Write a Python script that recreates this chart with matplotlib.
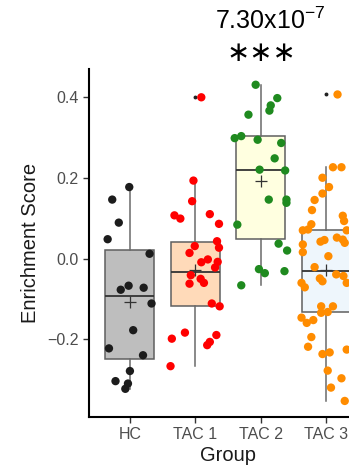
import numpy as np
import matplotlib
matplotlib.use("Agg")
import matplotlib.pyplot as plt

plt.rcParams['font.family'] = ['Liberation Sans', 'DejaVu Sans']
plt.rcParams['mathtext.default'] = 'regular'

groups = ["HC", "TAC 1", "TAC 2", "TAC 3"]
point_colors = ["#1c1c1c", "#ff0000", "#1f8a1f", "#ff8c00"]
box_fills = ["#bebebe", "#ffdab9", "#ffffe0", "#eef6fc"]

# enrichment scores, with their jitter offsets
hc_vals = [0.177, 0.146, 0.089, 0.048, 0.012, -0.077, -0.067, -0.072, -0.111,
           -0.177, -0.222, -0.239, -0.278, -0.303, -0.309, -0.322]
hc_jit = [-0.01, -0.27, -0.17, -0.34, 0.30, -0.14, -0.02, 0.21, 0.33,
          0.05, -0.32, 0.20, 0.0, -0.22, -0.03, -0.07]
tac1_vals = [0.399, 0.193, 0.142, 0.107, 0.099, 0.110, 0.086, 0.031, 0.043, 0.027,
             0.014, -0.002, -0.009, -0.008, -0.022, -0.041, -0.050, -0.062, -0.060,
             -0.111, -0.118, -0.183, -0.198, -0.189, -0.206, -0.214, -0.266]
tac1_jit = [0.09, -0.03, -0.05, -0.32, -0.23, 0.22, 0.36, -0.01, 0.33, 0.36,
            -0.09, 0.19, 0.09, 0.34, 0.30, -0.07, 0.08, -0.09, 0.13,
            0.25, 0.37, -0.16, -0.36, 0.32, 0.22, 0.18, -0.38]
tac2_vals = [0.430, 0.397, 0.379, 0.366, 0.356, 0.298, 0.303, 0.294, 0.286, 0.248,
             0.220, 0.218, 0.146, 0.146, 0.138, 0.084, 0.037, 0.020, -0.026,
             -0.036, -0.031, -0.066]
tac2_jit = [-0.08, 0.25, 0.15, 0.13, -0.19, -0.40, -0.30, -0.05, 0.31, 0.21,
            -0.02, 0.37, 0.12, 0.39, 0.39, -0.36, 0.27, 0.40, -0.03,
            0.06, 0.36, -0.30]
tac3_vals = [0.406, 0.226, 0.226, 0.200, 0.177, 0.161, 0.145, 0.120, 0.106, 0.093,
             0.085, 0.070, 0.072, 0.070, 0.046, 0.052, 0.047, 0.039, 0.035, 0.016,
             0.042, 0.006, -0.021, -0.039, -0.043, -0.060, -0.071, -0.049, -0.056,
             -0.060, -0.118, -0.118, -0.146, -0.159, -0.152, -0.194, -0.218, -0.236,
             -0.232, -0.277, -0.296, -0.319, -0.352, -0.225, -0.134, -0.132]
tac3_jit = [0.17, 0.10, 0.23, -0.06, 0.04, -0.06, -0.18, -0.22, 0.25, 0.27,
            -0.23, -0.36, -0.28, 0.31, -0.03, 0.16, 0.25, 0.28, -0.36, -0.36,
            -0.09, 0.03, -0.18, 0.15, 0.26, -0.38, -0.33, -0.10, -0.06,
            0.31, -0.08, 0.10, -0.38, -0.30, -0.20, -0.23, -0.28, -0.06,
            0.05, 0.02, 0.23, 0.07, 0.28, 0.31, -0.08, 0.02]
values = [hc_vals, tac1_vals, tac2_vals, tac3_vals]
jitter = [hc_jit, tac1_jit, tac2_jit, tac3_jit]

# box statistics as drawn in the picture
q1 = [-0.249, -0.118, 0.048, -0.132]
med = [-0.093, -0.033, 0.220, -0.031]
q3 = [0.022, 0.040, 0.303, 0.072]
whislo = [-0.322, -0.266, -0.066, -0.352]
whishi = [0.177, 0.193, 0.430, 0.226]
means = [-0.107, -0.029, 0.191, -0.027]
outliers = [[], [0.399], [], [0.406]]

pval_text = "7.30x10$^{-7}$"
stars_text = "\u2217\u2217\u2217"

fig = plt.figure(figsize=(3.49, 4.69), dpi=100)
ax = fig.add_axes([0.2559, 0.1115, 0.7957, 0.7414])

stats = []
for i in range(len(groups)):
    stats.append(dict(q1=q1[i], med=med[i], q3=q3[i], whislo=whislo[i],
                      whishi=whishi[i], mean=means[i], fliers=outliers[i]))
pos = np.arange(1, len(groups) + 1)
bp = ax.bxp(stats, positions=pos, widths=0.75, patch_artist=True, showcaps=False,
            showmeans=True,
            boxprops=dict(edgecolor="#5f5f5f", linewidth=1.1),
            whiskerprops=dict(color="#6a6a6a", linewidth=1.1),
            medianprops=dict(color="#333333", linewidth=1.3),
            meanprops=dict(marker="+", markeredgecolor="#333333", markersize=8,
                           markeredgewidth=0.9),
            flierprops=dict(marker="o", markersize=1.8, markerfacecolor="#222222",
                            markeredgecolor="#222222"),
            zorder=1)
for patch, fc in zip(bp["boxes"], box_fills):
    patch.set_facecolor(fc)

for i in range(len(groups)):
    x = pos[i] + np.array(jitter[i])
    ax.scatter(x, values[i], s=36, color=point_colors[i], edgecolors="none", zorder=3)

ax.set_xlim(0.38, 4.62)
ax.set_ylim(-0.391, 0.469)
ax.set_xticks(pos)
ax.set_xticklabels(groups)
ax.set_yticks([-0.2, 0.0, 0.2, 0.4])
ax.set_yticklabels(["\u22120.2", "0.0", "0.2", "0.4"])
ax.tick_params(colors="#333333", labelcolor="#4d4d4d", labelsize=11.5, length=4, width=1)
for s in ["top", "right"]:
    ax.spines[s].set_visible(False)
for s in ["left", "bottom"]:
    ax.spines[s].set_linewidth(1.5)
    ax.spines[s].set_color("black")
ax.set_xlabel("Group", fontsize=14.5, color="#1a1a1a", labelpad=3)
ax.set_ylabel("Enrichment Score", fontsize=14.5, color="#1a1a1a", labelpad=5)

# annotation above TAC 2 (position 3)
ax.text(3.14, 0.569, pval_text, ha="center", va="baseline", fontsize=18,
        color="black", clip_on=False)
ax.text(3.0, 0.509, stars_text, ha="center", va="center", fontsize=20,
        family="DejaVu Sans", color="black", clip_on=False)

fig.savefig("out.png", dpi=100)
